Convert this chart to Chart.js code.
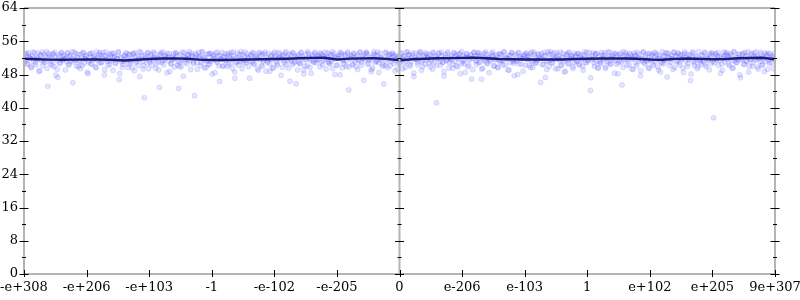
<!DOCTYPE html>
<html>
<head>
<meta charset="utf-8">
<script src="https://cdn.jsdelivr.net/npm/chart.js@4/dist/chart.umd.min.js"></script>
<style>
html,body{margin:0;padding:0;background:#fff;}
canvas{display:block;}
</style>
</head>
<body>
<canvas id="c" width="800" height="300"></canvas>
<script>
// x tick labels at integer positions -6..6
const xTickLabels = ["-e+308","-e+206","-e+103","-1","-e-102","-e-205","0","e-206","e-103","1","e+102","e+205","9e+307"];
const yTicks = [0,8,16,24,32,40,48,56,64];

// moving-average line (61 values spanning the x range)
const lineValues = [
51.80,51.68,51.58,51.56,51.57,51.60,51.61,51.52,51.37,51.55,
51.72,51.85,51.88,51.78,51.58,51.49,51.50,51.56,51.60,51.66,
51.74,51.80,51.92,52.00,52.04,51.60,51.82,51.88,51.90,51.75,
51.42,51.66,51.80,51.90,51.95,52.00,52.04,51.90,51.73,51.66,
51.62,51.61,51.61,51.62,51.72,51.80,51.85,51.85,51.85,51.80,
51.62,51.56,51.75,51.85,51.76,51.66,51.70,51.90,51.98,52.02,
51.66];

// scattered samples, set A (spread evenly across the x range)
const sampleValuesA = [
52.8,51.2,53.1,50.4,52.3,51.9,49.6,53.4,52.0,50.9,51.7,53.2,48.7,52.6,51.4,50.1,52.9,51.0,53.5,45.2,
52.1,50.6,51.8,53.0,49.9,52.4,51.3,47.3,52.7,50.8,53.3,51.6,52.2,49.1,51.1,53.1,50.3,52.5,51.9,46.0,
53.4,51.5,50.0,52.8,51.2,49.4,52.0,53.2,50.7,51.8,52.6,48.2,51.4,53.0,50.5,52.3,51.7,49.8,53.5,52.1,
50.9,52.7,51.0,53.3,47.9,52.4,51.6,50.2,52.9,51.3,53.1,49.0,52.2,50.6,51.9,53.4,46.8,52.0,51.1,50.4,
52.6,53.2,51.5,49.7,52.8,50.8,51.8,53.0,48.9,52.3,51.2,50.1,53.5,51.7,52.5,49.3,42.4,52.1,50.7,53.3,
51.4,52.9,50.3,51.9,53.1,49.5,52.0,51.0,44.9,52.7,50.9,53.4,51.6,52.4,48.4,51.3,53.0,50.5,52.2,51.8,
49.8,53.2,52.6,51.1,50.0,52.8,51.5,47.6,53.3,52.1,50.6,51.7,53.5,49.2,52.5,51.0,42.9,53.1,50.8,52.3,
51.9,50.2,53.4,52.0,49.6,51.4,52.9,50.4,53.0,51.2,48.1,52.7,51.8,53.2,50.9,52.4,46.3,51.6,53.3,50.1,
52.2,51.3,49.9,53.1,52.6,50.7,51.7,53.4,48.6,52.0,51.1,50.3,52.8,53.5,49.4,51.5,52.3,50.8,53.0,51.9,
47.1,52.5,51.0,53.2,50.5,52.1,51.8,49.0,53.3,52.7,50.0,51.4,52.9,48.8,51.2,53.1,50.6,52.4,51.6,49.7,
53.4,52.0,50.2,51.9,53.0,47.8,52.6,51.3,50.9,53.5,52.2,49.5,51.7,52.8,50.4,53.2,51.1,45.8,52.5,51.0,
50.7,53.3,52.3,49.1,51.5,52.9,50.1,53.1,51.8,48.3,52.4,51.2,53.4,50.8,52.0,51.6,49.8,53.0,52.7,51.4,
52.1,49.3,53.2,51.0,50.6,52.6,53.5,51.7,48.0,52.2,50.3,51.9,53.3,52.8,49.6,51.3,52.5,50.0,53.1,44.3,
51.8,52.4,50.5,53.0,51.1,49.9,52.7,51.5,53.4,50.2,52.0,46.6,51.4,53.2,52.9,50.7,51.6,49.2,52.3,53.5,
50.9,51.2,52.6,48.5,53.1,51.9,50.4,52.1,53.3,51.0,49.7,52.8,50.1,51.7,53.0,52.5,48.9,51.3,52.2,50.6,
53.2,51.5,49.4,52.4,50.8,53.4,51.8,52.7,50.0,51.1,53.1,47.5,52.0,51.6,50.3,52.9,53.5,49.0,51.4,52.3,
50.5,53.0,51.9,52.6,49.8,51.2,53.3,50.7,52.1,41.2,51.7,53.2,50.2,52.5,51.0,48.7,52.8,51.3,53.4,50.9,
52.0,51.6,49.5,53.1,52.4,50.1,51.8,52.9,48.2,53.5,51.1,50.6,52.2,53.0,49.9,51.5,52.7,46.9,51.9,53.3,
51.4,50.4,52.6,53.2,51.0,49.3,52.3,51.7,53.4,50.8,52.0,48.4,51.2,53.1,52.5,50.0,51.6,52.8,49.6,53.0,
52.9,51.3,50.3,53.5,52.1,51.8,49.1,52.6,50.9,53.3,51.5,47.7,52.4,51.1,53.2,50.5,52.0,51.9,48.8,52.7,
50.2,53.1,51.6,52.3,49.7,53.4,51.0,52.8,50.7,51.4,53.0,52.2,46.1,51.8,50.4,53.3,52.5,49.2,51.2,52.9,
53.5,50.8,52.1,51.7,49.4,53.2,52.6,51.3,50.1,52.0,53.1,48.6,51.5,52.7,50.6,53.4,51.9,52.4,49.9,51.0,
52.3,51.1,53.0,50.3,52.8,51.6,49.0,53.5,52.2,50.9,51.4,53.3,47.2,52.5,51.8,50.0,52.9,53.1,49.5,51.2,
50.6,52.7,51.9,53.2,49.8,52.0,51.0,53.4,50.4,52.4,51.7,48.3,53.0,52.6,50.8,51.3,52.1,45.5,53.5,51.5,
52.8,50.2,51.6,53.1,52.3,49.3,51.9,52.5,50.7,53.3,51.2,52.0,48.9,51.8,53.4,50.5,52.7,51.1,49.6,53.0,
51.4,52.9,50.1,52.2,53.2,51.7,49.1,52.6,51.0,53.5,50.6,52.4,51.5,47.4,53.1,52.0,50.9,51.8,53.3,49.7,
52.5,51.3,53.0,50.3,52.8,51.9,48.5,53.4,52.1,50.0,51.6,52.7,48.1,53.2,51.2,50.8,52.3,49.4,53.5,51.7,
50.4,52.6,51.1,53.3,49.9,52.0,51.5,53.1,50.7,52.9,37.6,51.8,53.0,52.4,50.2,51.4,52.2,49.0,53.4,51.0,
52.7,53.2,50.6,51.9,52.5,49.5,53.5,51.3,50.9,52.1,53.0,47.9,51.6,52.8,50.5,53.3,51.2,52.3,48.6,51.8,
53.1,50.0,52.4,51.5,53.4,49.8,52.0,51.1,52.9,50.3,51.7,53.2,52.6,49.2,51.4,53.0,50.8,52.2,51.9,51.6];

// scattered samples, set B (spread evenly, between set A's positions)
const sampleValuesB = [
51.37,52.84,50.62,53.18,51.95,49.83,52.46,51.09,53.27,50.31,52.12,51.68,48.94,52.73,53.41,50.86,51.52,52.29,49.47,53.06,
52.58,51.14,50.23,52.91,53.36,47.82,49.28,52.05,50.69,53.14,51.43,52.67,51.77,51.88,53.22,50.47,52.38,51.26,53.49,50.98,
51.61,53.03,52.19,49.91,51.34,52.87,50.14,53.31,51.83,52.42,48.57,51.02,52.96,50.53,53.19,51.71,52.24,49.62,51.48,52.81,
53.27,50.76,51.93,52.52,49.17,53.44,51.21,52.08,50.39,52.69,51.56,53.12,52.33,50.88,51.79,53.38,48.26,52.14,49.74,51.17,
52.47,51.89,53.08,50.44,52.76,51.32,49.56,52.94,53.25,50.82,51.63,52.21,47.46,53.33,51.07,50.18,52.62,51.84,53.16,49.37,
50.93,52.36,51.49,53.42,52.03,50.61,51.76,49.08,52.88,53.21,51.28,50.37,52.54,51.91,53.04,52.27,48.73,50.72,51.58,52.99,
51.82,53.17,50.27,44.62,51.03,49.79,53.35,52.18,50.94,51.67,52.83,52.64,51.39,53.09,52.41,50.56,51.94,52.72,49.23,53.28,
52.26,50.84,53.46,51.53,52.07,49.64,51.19,52.93,50.46,53.13,51.87,52.34,48.42,51.27,53.37,50.09,52.59,51.74,49.96,52.15,
53.02,51.41,52.68,50.35,51.98,53.29,49.45,52.52,47.08,50.78,53.18,52.01,51.12,51.69,52.86,50.63,53.43,51.36,52.23,49.86,
51.15,52.79,53.24,50.51,51.86,52.37,49.34,53.11,51.62,50.24,52.95,51.31,53.39,52.11,50.91,51.73,48.81,52.66,49.52,53.07,
52.44,51.06,50.67,53.32,52.17,51.79,49.72,52.61,53.15,50.43,51.54,52.89,46.37,51.22,53.26,50.76,52.31,51.97,49.11,52.74,
50.58,53.21,51.89,48.12,50.04,51.65,53.45,52.09,49.67,51.33,52.82,50.87,53.03,51.46,52.48,52.57,53.19,51.01,50.33,52.28,
53.34,51.58,52.13,50.71,52.92,51.17,49.41,53.06,52.35,50.16,51.91,52.63,47.94,53.23,51.44,50.53,52.77,51.28,53.41,49.81,
51.94,52.67,50.29,53.14,51.72,52.21,49.18,51.38,53.31,50.97,52.46,51.83,52.98,53.36,50.41,51.57,52.16,48.66,49.59,53.01,
52.71,51.26,53.38,50.82,52.04,51.51,49.97,45.74,50.13,53.27,51.68,52.39,52.85,51.11,53.12,50.66,52.55,51.93,49.31,52.18,
50.74,53.09,51.84,52.32,49.69,51.21,53.42,52.73,50.36,51.96,52.58,48.36,53.17,51.63,50.92,52.27,53.34,51.08,49.88,52.61,
53.19,51.46,52.06,50.58,52.88,51.71,49.26,53.24,52.44,50.19,51.87,52.97,51.29,53.38,50.81,47.63,52.14,51.56,53.07,49.54,
51.73,52.51,50.46,53.29,51.18,52.84,49.87,51.99,53.13,50.69,52.38,51.42,48.49,53.01,52.19,50.27,51.81,52.69,49.16,53.35,
52.36,51.13,53.21,50.89,52.59,46.88,49.48,53.08,51.24,52.93,50.57,51.96,51.62,52.47,53.43,50.12,51.69,52.28,49.77,51.37,
50.96,52.78,51.53,53.36,50.31,52.02,51.78,49.04,52.66,53.18,51.15,50.72,52.87,51.44,48.01,53.26,52.34,50.48,51.92,52.55,
53.11,51.67,52.42,50.17,52.97,51.28,49.66,53.33,52.09,50.84,51.58,52.73,51.85,53.04,50.39,52.48,47.29,51.12,53.47,49.93,
51.49,52.86,50.77,53.22,51.96,52.31,49.38,51.64,53.39,50.26,52.18,51.07,48.78,52.82,53.16,50.59,51.77,52.44,49.42,53.13,
52.63,51.32,53.06,50.49,52.27,51.87,49.99,52.74,50.97,53.29,51.45,52.12,44.18,51.59,53.21,50.71,52.91,51.24,49.63,52.39,
50.86,53.27,51.71,52.56,49.51,51.18,53.41,52.24,50.63,51.88,52.69,53.12,51.34,50.45,48.18,52.83,53.08,51.02,49.72,52.47,
53.24,51.55,52.28,50.33,52.81,51.66,49.21,53.17,52.57,50.08,51.97,52.91,47.71,51.26,53.36,50.94,52.16,51.49,53.02,49.46,
51.64,52.43,50.54,53.32,51.09,52.78,49.81,51.91,48.58,50.76,52.33,51.38,53.26,53.14,52.22,50.21,51.74,52.62,49.29,53.39,
52.29,51.04,53.19,50.92,52.54,51.61,49.57,53.01,51.31,52.89,50.66,51.84,46.54,52.38,53.44,50.14,51.63,52.26,49.85,51.43,
50.99,52.72,51.47,53.28,50.37,52.06,51.82,49.12,52.61,53.23,51.19,50.79,52.94,51.51,53.31,52.36,48.29,50.52,51.89,52.59,
53.16,51.72,52.47,50.11,52.99,51.35,49.61,53.37,52.04,50.89,51.53,52.76,47.19,51.78,53.09,50.42,52.51,51.16,53.46,49.98,
51.53,52.81,50.81,53.19,51.99,52.35,49.33,51.69,53.34,50.29,52.21,48.71,51.11,52.79,53.12,50.62,51.81,52.49,49.39,53.11];

const X_MIN = -6, X_MAX = 6;
const spreadA = (arr) => arr.map((v, i) => ({ x: X_MIN + (X_MAX - X_MIN) * i / (arr.length - 1), y: v }));
const spreadB = (arr) => arr.map((v, i) => ({ x: X_MIN + (X_MAX - X_MIN) * (i + 0.5) / arr.length, y: v }));

const FONT = '"DejaVu Serif", serif';

const racketAxes = {
  id: 'racketAxes',
  afterDraw(chart) {
    const { ctx, chartArea: a, scales: { x, y } } = chart;
    ctx.save();
    // gray frame and zero axis
    ctx.strokeStyle = '#b4b4b4';
    ctx.lineWidth = 2;
    ctx.beginPath();
    ctx.moveTo(a.left, a.top); ctx.lineTo(a.right, a.top);
    ctx.moveTo(a.left, a.bottom); ctx.lineTo(a.right, a.bottom);
    ctx.moveTo(a.left, a.top); ctx.lineTo(a.left, a.bottom);
    ctx.moveTo(a.right, a.top); ctx.lineTo(a.right, a.bottom);
    const x0 = x.getPixelForValue(0);
    ctx.moveTo(x0, a.top); ctx.lineTo(x0, a.bottom);
    ctx.stroke();
    // tick marks
    ctx.strokeStyle = '#000';
    ctx.lineWidth = 1;
    ctx.beginPath();
    const vAxes = [a.left, x0, a.right];
    for (let v = 0; v <= 64; v += 4) {
      const py = Math.round(y.getPixelForValue(v)) + 0.5;
      const major = v % 8 === 0;
      const h = major ? 4.5 : 2;
      vAxes.forEach(ax => { ctx.moveTo(ax - h, py); ctx.lineTo(ax + h, py); });
    }
    for (let v = X_MIN; v <= X_MAX; v++) {
      const px = Math.round(x.getPixelForValue(v)) + 0.5;
      ctx.moveTo(px, a.bottom - 4); ctx.lineTo(px, a.bottom + 3);
    }
    ctx.stroke();
    ctx.restore();
  }
};

const pointStyle = {
  type: 'scatter',
  order: 1,
  pointRadius: 2.5,
  backgroundColor: 'rgba(70,70,255,0.14)',
  borderColor: 'rgba(70,70,255,0.15)',
  borderWidth: 1
};

new Chart(document.getElementById('c'), {
  data: {
    datasets: [
      {
        type: 'line',
        order: 0,
        data: spreadA(lineValues),
        borderColor: '#1a1a78',
        borderWidth: 2.4,
        pointRadius: 0,
        tension: 0,
        fill: false
      },
      Object.assign({ data: spreadA(sampleValuesA) }, pointStyle),
      Object.assign({ data: spreadB(sampleValuesB) }, pointStyle)
    ]
  },
  plugins: [racketAxes],
  options: {
    responsive: false,
    animation: false,
    events: [],
    layout: { padding: { left: 0, right: 25, top: 8, bottom: 0 } },
    plugins: { legend: { display: false }, tooltip: { enabled: false } },
    scales: {
      x: {
        type: 'linear',
        min: X_MIN, max: X_MAX,
        afterFit: s => { s.height = 26; s.paddingLeft = 0; s.paddingRight = 0; },
        afterBuildTicks: s => { s.ticks = xTickLabels.map((_, i) => ({ value: X_MIN + i })); },
        grid: { display: false, drawTicks: false },
        border: { display: false },
        ticks: {
          padding: 6,
          maxRotation: 0,
          autoSkip: false,
          color: '#000',
          font: { family: FONT, size: 13 },
          callback: (v) => xTickLabels[Math.round(v) - X_MIN]
        }
      },
      y: {
        type: 'linear',
        min: 0, max: 64,
        afterFit: s => { s.width = 24; s.paddingTop = 0; s.paddingBottom = 0; },
        afterBuildTicks: s => { s.ticks = yTicks.map(v => ({ value: v })); },
        grid: { display: false, drawTicks: false },
        border: { display: false },
        ticks: {
          padding: 6,
          color: '#000',
          font: { family: FONT, size: 13 },
          callback: v => String(v)
        }
      }
    }
  }
});
</script>
</body>
</html>
